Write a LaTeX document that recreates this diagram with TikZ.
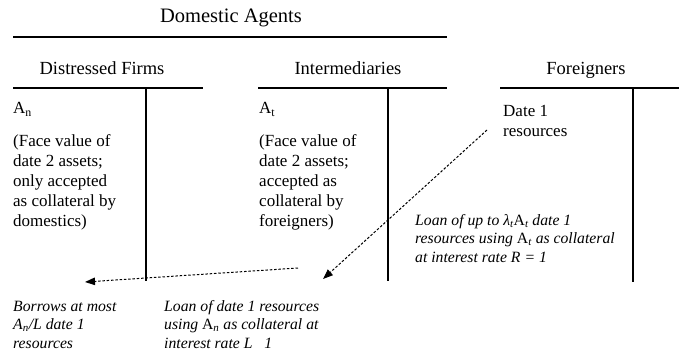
\documentclass[tikz,border=0pt]{standalone}
\usepackage{fontspec}
\setmainfont{Liberation Serif}
\usetikzlibrary{arrows.meta}
\newcommand{\lns}[1]{\vtop{\halign{##\hfil\cr #1\crcr}}}
\begin{document}
\begin{tikzpicture}[x=1pt,y=-1pt,
  hline/.style={line width=2.6pt},
  vline/.style={line width=2pt},
  head/.style={font=\fontsize{18.5}{22}\selectfont, inner sep=0, anchor=base},
  body/.style={font=\fontsize{17}{20}\selectfont, inner sep=0, anchor=base west},
  note/.style={font=\fontsize{15.7}{18.3}\selectfont\itshape, inner sep=0, anchor=base west},
  flow/.style={line width=1pt, dash pattern=on 2.5pt off 1.8pt, -{Triangle[length=10pt,width=7.5pt]}}
]
\useasboundingbox (0,0) rectangle (679,354);
% headings
\node[head, font=\fontsize{20.5}{24}\selectfont] (title) at (231,22) {Domestic Agents};
\draw[hline] (13,37) -- (447,37);
\node[head] (firms) at (102,74.5) {Distressed Firms};
\node[head] (inter) at (348,74.5) {Intermediaries};
\node[head] (foreign) at (586,74.5) {Foreigners};
% T accounts
\draw[hline] (13,88) -- (203,88);
\draw[vline] (146,88) -- (146,281);
\draw[hline] (258,88) -- (447,88);
\draw[vline] (388,88) -- (388,281);
\draw[hline] (500,88) -- (679,88);
\draw[vline] (633,88) -- (633,282);
% contents
\node[body] (an) at (13,113.5) {A\textsubscript{n}};
\node[body] (antext) at (13,146) {\lns{(Face value of\cr date 2 assets;\cr only accepted\cr as collateral by\cr domestics)}};
\node[body] (at) at (259,113.5) {A\textsubscript{t}};
\node[body] (attext) at (259,146) {\lns{(Face value of\cr date 2 assets;\cr accepted as\cr collateral by\cr foreigners)}};
\node[body] (res) at (503,116) {\lns{Date 1\cr resources}};
% notes
\node[note] (loanf) at (415,225.5) {\lns{Loan of up to λ\textsubscript{t}{\upshape A}\textsubscript{t} date 1\cr resources using {\upshape A}\textsubscript{t} as collateral\cr at interest rate R = 1}};
\node[note] (borrow) at (13,311.5) {\lns{Borrows at most\cr A\textsubscript{n}/L date 1\cr resources}};
\node[note] (loand) at (164,311.5) {\lns{Loan of date 1 resources\cr using {\upshape A}\textsubscript{n} as collateral at\cr interest rate L \ \ 1}};
% flows
\coordinate (f1s) at (487,130);
\coordinate (f1e) at (323,279);
\coordinate (f2s) at (298,268);
\coordinate (f2e) at (85,282);
\draw[flow] (f1s) -- (f1e);
\draw[flow] (f2s) -- (f2e);
\end{tikzpicture}
\end{document}
